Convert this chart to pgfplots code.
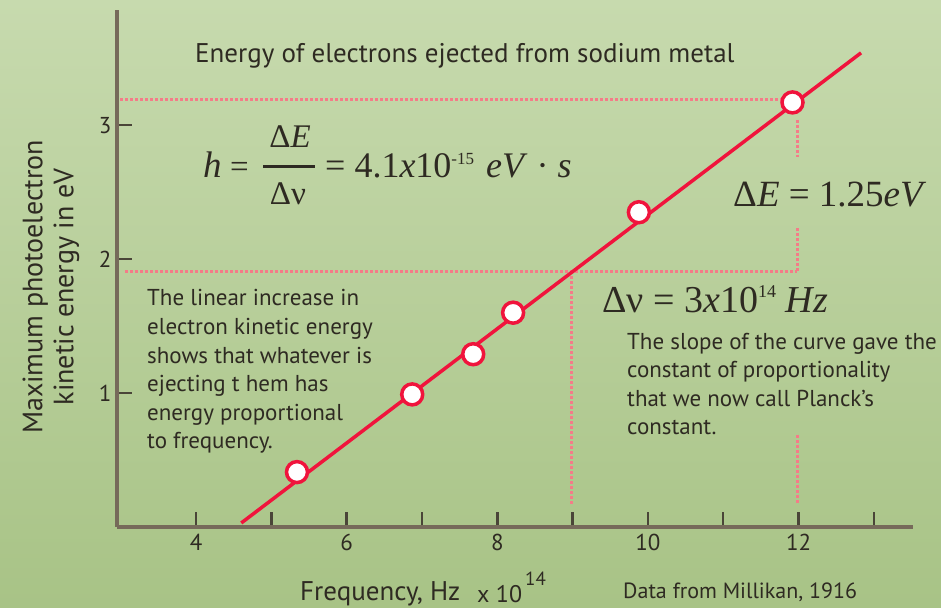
\documentclass[border=0pt]{standalone}
\usepackage{fontspec}
\setmainfont{PT Sans}
\newfontfamily\tms{Liberation Serif}
\usepackage{pgfplots}
\pgfplotsset{compat=1.18}
\definecolor{bgtop}{HTML}{C7DAAE}
\definecolor{bgbot}{HTML}{A8C386}
\definecolor{axcol}{HTML}{766A5A}
\definecolor{tickcol}{HTML}{4A4538}
\definecolor{redl}{HTML}{F0143C}
\definecolor{pinkd}{HTML}{F47C88}
\definecolor{txt}{HTML}{2E2A22}
\begin{document}
\begin{tikzpicture}[x=1pt,y=1pt]
\shade[top color=bgtop, bottom color=bgbot] (0,0) rectangle (941,607);
\begin{axis}[
  at={(117pt,80pt)}, anchor=south west,
  scale only axis, width=796pt, height=517pt,
  xmin=2.95, xmax=13.52, ymin=0, ymax=3.86,
  axis x line=bottom, axis y line=left,
  axis line style={-, draw=axcol, line width=3.5pt},
  xtick={4,5,...,13}, xticklabels={4,,6,,8,,10,,12,},
  ytick={1,2,3},
  tick align=inside, major tick length=15pt,
  tick style={line width=2.5pt, color=tickcol},
  /pgf/number format/assume math mode=true,
  tick label style={font=\fontsize{23}{23}\selectfont, text=txt},
  xticklabel style={yshift=-4pt},
  yticklabel style={xshift=-2pt},
  clip=false,
]
\addplot[pinkd, line width=3pt, dash pattern=on 3pt off 2pt, forget plot] coordinates {(2.99,3.19) (11.90,3.19)};
\addplot[pinkd, line width=3pt, dash pattern=on 3pt off 2pt, forget plot] coordinates {(3.06,1.91) (11.98,1.91)};
\addplot[pinkd, line width=3pt, dash pattern=on 3pt off 2pt, forget plot] coordinates {(8.99,1.91) (8.99,0.16)};
\addplot[pinkd, line width=3pt, dash pattern=on 3pt off 2pt, forget plot] coordinates {(11.98,3.04) (11.98,2.76)};
\addplot[pinkd, line width=3pt, dash pattern=on 3pt off 2pt, forget plot] coordinates {(11.98,2.23) (11.98,1.91)};
\addplot[pinkd, line width=3pt, dash pattern=on 3pt off 2pt, forget plot] coordinates {(11.98,0.69) (11.98,0.18)};
\addplot[redl, line width=3.5pt] coordinates {(4.60,0.03) (12.83,3.54)};
\addplot[only marks, mark=*, mark size=10.5pt, mark options={fill=white, draw=redl, line width=3.5pt}] coordinates {
(5.34,0.41) (6.87,0.99) (7.68,1.29) (8.21,1.60) (9.88,2.35) (11.92,3.17)};
\end{axis}
\begin{scope}[every node/.style={text=txt, inner sep=0pt}]
\node[anchor=base west, font=\fontsize{27}{27}\selectfont] at (195,544) {Energy of electrons ejected from sodium metal};
\node[anchor=base west, align=left, font=\fontsize{23}{28.6}\selectfont] at (147,158) {The linear increase in\\electron kinetic energy\\shows that whatever is\\ejecting t hem has\\energy proportional\\to frequency.};
\node[anchor=base west, align=left, font=\fontsize{23}{28.6}\selectfont] at (627,172) {The slope of the curve gave the\\constant of proportionality\\that we now call Planck's\\constant.};
\node[anchor=base west, font=\fontsize{27}{27}\selectfont] at (300,7) {Frequency, Hz};
\node[anchor=base west, font=\fontsize{24}{24}\selectfont] at (477,5) {x 10};
\node[anchor=base west, font=\fontsize{19}{19}\selectfont] at (525,22) {14};
\node[anchor=base west, font=\fontsize{22}{22}\selectfont] at (623,9) {Data from Millikan, 1916};
\node[rotate=90, align=center, font=\fontsize{28}{31}\selectfont] at (51,320) {Maximum photoelectron\\kinetic energy in eV};
% formulas
\node[anchor=base west, font=\tms\fontsize{37}{37}\selectfont] at (203,429) {\textit{h}};
\node[anchor=base west, font=\tms\fontsize{33}{33}\selectfont] at (230,429) {=};
\node[anchor=base, font=\tms\fontsize{33}{33}\selectfont] at (290,459) {Δ\textit{E}};
\node[anchor=base, font=\tms\fontsize{33}{33}\selectfont] at (288,402) {Δν};
\draw[txt, line width=3pt] (263,440) -- (315,440);
\node[anchor=base west, font=\tms\fontsize{36}{36}\selectfont] at (325,429) {= 4.1\textit{x}10\raisebox{13pt}{\fontsize{17}{17}\selectfont -15}\,\,\textit{eV} · \textit{s}};
\node[anchor=base west, font=\tms\fontsize{37}{37}\selectfont] at (733,400) {Δ\textit{E} = 1.25\textit{eV}};
\node[anchor=base west, font=\tms\fontsize{38}{38}\selectfont] at (602,294) {Δν = 3\textit{x}10\raisebox{15pt}{\fontsize{18}{18}\selectfont 14} \textit{Hz}};
\end{scope}
\pgfresetboundingbox
\useasboundingbox (0,0) rectangle (941,607);
\end{tikzpicture}
\end{document}
